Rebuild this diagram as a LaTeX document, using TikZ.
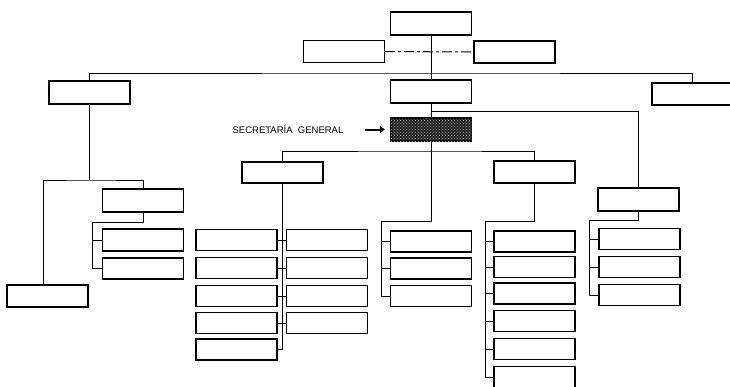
\documentclass[tikz,border=0pt]{standalone}
\usepackage{fontspec}
\setmainfont{Liberation Sans}
\usetikzlibrary{arrows.meta,patterns}

\begin{document}
\begin{tikzpicture}[x=1pt,y=-1pt,
        unit/.style={draw,line width=1.3pt,minimum width=81pt,minimum height=22pt,inner sep=0pt},
        link/.style={line width=1pt},
        pointer/.style={line width=2pt,-{Triangle[length=5pt,width=7pt]}}]
        \useasboundingbox (0,0) rectangle (730,386);

        % upper levels
        \node[unit,minimum height=23pt] (top) at (431,23.5) {};
        \node[unit] (advl) at (344,51.5) {};
        \node[unit] (advr) at (514.5,52) {};
        \node[unit,minimum height=23pt] (left) at (89.5,92.5) {};
        \node[unit,minimum height=23pt] (mid) at (431,91.5) {};
        \node[unit] (right) at (692.5,94) {};
        \node[unit,minimum height=23pt,fill=black!88,
              postaction={pattern=crosshatch dots,pattern color=gray!60}] (sg) at (431,129.5) {};
        \node[font=\fontsize{9.5}{11}\selectfont] (sglab) at (288,129.5) {SECRETARÍA\ \ GENERAL};
        \draw[pointer] ([xshift=18pt]sglab.east) -- ([xshift=-5pt]sg.west);

        \coordinate (bus) at (431,73);
        \coordinate (midj) at (431,111);
        \coordinate (sgj) at (431,151);
        \draw[link] (top) -- (mid);
        \draw[link,dash pattern=on 10pt off 3pt on 3pt off 3pt] (advl) -- (advr);
        \draw[link] (left.north) |- (bus) -| (right.north);
        \draw[link] (mid) -- (sg);

        % second level under the secretaria
        \node[unit,minimum height=21pt] (dirA) at (282.5,172.5) {};
        \node[unit] (dirB) at (534.5,172) {};
        \node[unit,minimum height=23pt] (dirC) at (638.5,199.5) {};
        \draw[link] (dirA.north) |- (sgj) -| (dirB.north);
        \draw[link] (midj) -| (dirC.north);

        % left branch
        \node[unit,minimum height=23pt] (l1) at (143,200.5) {};
        \node[unit] (l2) at (143,240) {};
        \node[unit,minimum height=21pt] (l3) at (143,268.5) {};
        \node[unit] (l4) at (47.5,296) {};
        \coordinate (lj) at (89.5,180);
        \coordinate (l1j) at (92,222);
        \draw[link] (left.south) -- (lj);
        \draw[link] ([xshift=-4.5pt]l4.north) |- (lj) -| (l1.north);
        \draw[link] (l1.south) |- (l1j) |- (l3.west);
        \draw[link] (l1j |- l2.west) -- (l2.west);

        % two columns under dirA
        \foreach \i/\y in {1/240,2/268,3/296,4/323,5/349.5}
            \node[unit,minimum height=21pt] (a\i) at (236.5,\y) {};
        \foreach \i/\y in {1/240,2/268,3/296,4/323}
            \node[unit,minimum height=21pt] (c\i) at (327,\y) {};
        \draw[link] (dirA.south) |- (a5.east);
        \foreach \i in {1,...,4}
            \draw[link] (a\i.east) -- (c\i.west);

        % column under the secretaria
        \foreach \i/\y in {1/241.5,2/268.5,3/296}
            \node[unit,minimum height=21pt] (s\i) at (431,\y) {};
        \coordinate (sgt) at (381,221);
        \draw[link] (sg.south) |- (sgt) |- (s3.west);
        \foreach \i in {1,2}
            \draw[link] (sgt |- s\i.west) -- (s\i.west);

        % column under dirB
        \foreach \i/\y in {1/241.5,2/267,3/293.5,4/321,5/349,6/377}
            \node[unit,minimum height=21pt] (b\i) at (534.5,\y) {};
        \coordinate (dbt) at (485,221);
        \draw[link] (dirB.south) |- (dbt) |- (b6.west);
        \foreach \i in {1,...,5}
            \draw[link] (dbt |- b\i.west) -- (b\i.west);

        % column under dirC
        \foreach \i/\y in {1/239,2/267,3/295}
            \node[unit,minimum height=21pt] (r\i) at (639.5,\y) {};
        \coordinate (dct) at (589,220);
        \draw[link] (dirC.south) |- (dct) |- (r3.west);
        \foreach \i in {1,2}
            \draw[link] (dct |- r\i.west) -- (r\i.west);
    \end{tikzpicture}
\end{document}
